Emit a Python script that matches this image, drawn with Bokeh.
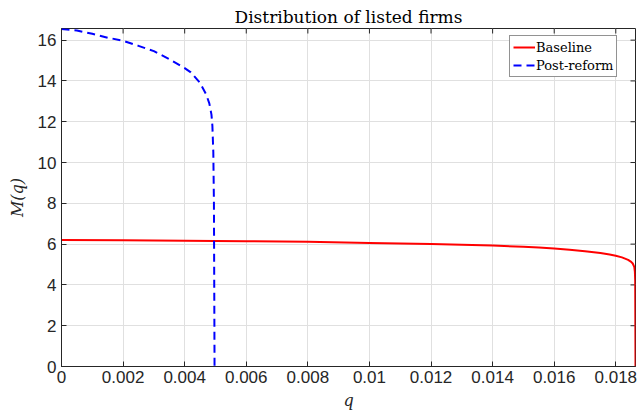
from bokeh.plotting import figure
from bokeh.models import Range1d, FixedTicker, Legend, LegendItem
from bokeh.embed import file_html
from bokeh.resources import INLINE

# ---- data ----
baseline_q = [0.0, 0.002, 0.004, 0.006, 0.008, 0.010, 0.012, 0.013, 0.014, 0.015,
              0.0155, 0.016, 0.0165, 0.017, 0.0175, 0.0178, 0.018, 0.0182,
              0.0184, 0.0185, 0.01855, 0.0186, 0.01862, 0.01863, 0.01864]
baseline_m = [6.20, 6.19, 6.17, 6.14, 6.11, 6.06, 6.01, 5.97, 5.93, 5.87,
              5.83, 5.78, 5.72, 5.65, 5.56, 5.49, 5.43, 5.35,
              5.23, 5.13, 5.05, 4.88, 4.65, 4.20, 0.0]

reform_q = [0.0, 0.0005, 0.001, 0.0015, 0.002, 0.0025, 0.003, 0.0035, 0.004,
            0.0042, 0.0045, 0.0047, 0.0048, 0.00487, 0.0049, 0.00493, 0.00495,
            0.00496, 0.00497]
reform_m = [16.54, 16.47, 16.31, 16.12, 15.97, 15.72, 15.46, 15.07, 14.63,
            14.42, 13.90, 13.33, 12.90, 12.35, 11.80, 10.50, 8.00,
            4.00, 0.0]

x_ticks = [0, 0.002, 0.004, 0.006, 0.008, 0.01, 0.012, 0.014, 0.016, 0.018]
x_tick_labels = ["0", "0.002", "0.004", "0.006", "0.008", "0.01", "0.012",
                 "0.014", "0.016", "0.018"]
y_ticks = [0, 2, 4, 6, 8, 10, 12, 14, 16]
y_tick_labels = ["0", "2", "4", "6", "8", "10", "12", "14", "16"]

title_text = "Distribution of listed firms"
x_label = "q"
y_label = "M(q)"
series_names = ["Baseline", "Post-reform"]

X_MAX = 0.01864
Y_MAX = 16.57

AX = "#262626"
TICKFONT = "Liberation Sans"
SERIF = "DejaVu Serif"

p = figure(width=639, height=419, output_backend="svg", toolbar_location=None,
           x_range=Range1d(0, X_MAX), y_range=Range1d(0, Y_MAX),
           min_border_left=61, min_border_right=4, min_border_top=28,
           min_border_bottom=53, title=title_text)

p.title.align = "center"
p.title.text_font = SERIF
p.title.text_font_style = "normal"
p.title.text_font_size = "17px"
p.title.text_color = "black"
p.title.offset = 0
p.title.standoff = 4

p.background_fill_color = "white"
p.border_fill_color = "white"
p.outline_line_color = AX
p.outline_line_width = 1

for ax, ticks, labels in ((p.xaxis[0], x_ticks, x_tick_labels),
                          (p.yaxis[0], y_ticks, y_tick_labels)):
    ax.ticker = FixedTicker(ticks=ticks)
    ax.major_label_overrides = {t: l for t, l in zip(ticks, labels)}
    ax.major_label_text_font = TICKFONT
    ax.major_label_text_font_size = "17px"
    ax.major_label_text_color = AX
    ax.axis_line_color = AX
    ax.major_tick_line_color = AX
    ax.major_tick_in = 5
    ax.major_tick_out = 0
    ax.minor_tick_line_color = None
    ax.axis_label_text_font = SERIF
    ax.axis_label_text_font_style = "italic"
    ax.axis_label_text_font_size = "16px"
    ax.axis_label_text_color = AX

p.xaxis[0].axis_label = x_label
p.yaxis[0].axis_label = y_label
p.xaxis[0].major_label_standoff = 4
p.yaxis[0].major_label_standoff = 5
p.xaxis[0].axis_label_standoff = 5
p.yaxis[0].axis_label_standoff = 8

p.xgrid.ticker = FixedTicker(ticks=x_ticks)
p.ygrid.ticker = FixedTicker(ticks=y_ticks)
for g in (p.xgrid[0], p.ygrid[0]):
    g.grid_line_color = "#e0e0e0"
    g.grid_line_width = 1

# box-style inward ticks on the top and right edges
p.scatter([X_MAX] * len(y_ticks), y_ticks, marker="dash", size=10,
          line_color=AX, line_width=1)
p.scatter(x_ticks, [Y_MAX] * len(x_ticks), marker="dash", angle=1.5708,
          size=10, line_color=AX, line_width=1)

r1 = p.line(baseline_q, baseline_m, line_color="#ff0000", line_width=2)
r2 = p.line(reform_q, reform_m, line_color="#0000ff", line_width=2,
            line_dash="8 5")

legend = Legend(items=[LegendItem(label=series_names[0], renderers=[r1]),
                       LegendItem(label=series_names[1], renderers=[r2])],
                location=(448, 289))
legend.label_text_font = SERIF
legend.label_text_font_size = "13px"
legend.label_text_color = "black"
legend.glyph_width = 22
legend.glyph_height = 16
legend.label_height = 16
legend.label_standoff = 1
legend.padding = 3
legend.spacing = 2
legend.margin = 0
legend.border_line_color = AX
legend.border_line_width = 1
legend.background_fill_alpha = 1
p.add_layout(legend, "center")

open("out.html", "w").write(file_html(p, INLINE))
